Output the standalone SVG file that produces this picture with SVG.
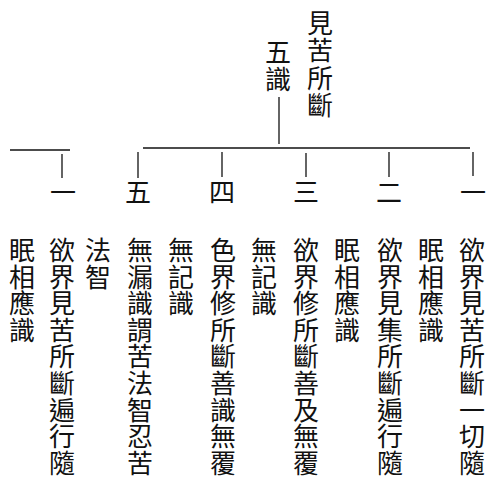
<svg xmlns="http://www.w3.org/2000/svg" width="494" height="488" viewBox="0 0 494 488">
<style>
text{font-family:"Noto Sans CJK TC","Noto Sans CJK JP",sans-serif;fill:#111;text-anchor:middle;font-size:26px}
.ln{stroke:#111;stroke-width:1.3;fill:none}
</style>
<rect width="494" height="488" fill="#fff"/>
<g id="connectors">
<line class="ln" x1="279" y1="97" x2="279" y2="144"/>
<line class="ln" x1="143" y1="148" x2="470" y2="148"/>
<line class="ln" x1="10" y1="150" x2="70" y2="150"/>
<line class="ln" x1="62" y1="154" x2="62" y2="178"/>
<line class="ln" x1="138" y1="152" x2="138" y2="178"/>
<line class="ln" x1="222" y1="152" x2="222" y2="177"/>
<line class="ln" x1="306" y1="153" x2="306" y2="177"/>
<line class="ln" x1="389" y1="152" x2="389" y2="177"/>
<line class="ln" x1="473" y1="152" x2="473" y2="176"/>
</g>
<g id="title">
<text x="320 320 320 320" y="33 60 87.5 114.5">見苦所斷</text>
</g>
<g id="wushi">
<text x="278 278" y="62 89">五識</text>
</g>
<g id="n1l"><text x="63" y="202">一</text></g>
<g id="n5"><text x="138" y="202">五</text></g>
<g id="n4"><text x="222" y="202">四</text></g>
<g id="n3"><text x="306" y="202">三</text></g>
<g id="n2"><text x="389" y="202">二</text></g>
<g id="n1r"><text x="473" y="202">一</text></g>
<g id="col1"><text x="22 22 22 22" y="260 286.6 313.2 339.8">眠相應識</text></g>
<g id="col2"><text x="62 62 62 62 62 62 62 62 62" y="260 286.6 313.2 339.8 366.4 393 419.6 446.2 472.8">欲界見苦所斷遍行隨</text></g>
<g id="col3"><text x="98 98" y="260 286.6">法智</text></g>
<g id="col4"><text x="140 140 140 140 140 140 140 140 140" y="260 286.6 313.2 339.8 366.4 393 419.6 446.2 472.8">無漏識謂苦法智忍苦</text></g>
<g id="col5"><text x="181 181 181" y="260 286.6 313.2">無記識</text></g>
<g id="col6"><text x="223 223 223 223 223 223 223 223 223" y="260 286.6 313.2 339.8 366.4 393 419.6 446.2 472.8">色界修所斷善識無覆</text></g>
<g id="col7"><text x="264 264 264" y="260 286.6 313.2">無記識</text></g>
<g id="col8"><text x="306 306 306 306 306 306 306 306 306" y="260 286.6 313.2 339.8 366.4 393 419.6 446.2 472.8">欲界修所斷善及無覆</text></g>
<g id="col9"><text x="347 347 347 347" y="260 286.6 313.2 339.8">眠相應識</text></g>
<g id="col10"><text x="390 390 390 390 390 390 390 390 390" y="260 286.6 313.2 339.8 366.4 393 419.6 446.2 472.8">欲界見集所斷遍行隨</text></g>
<g id="col11"><text x="431 431 431 431" y="260 286.6 313.2 339.8">眠相應識</text></g>
<g id="col12"><text x="472 472 472 472 472 472 472 472 472" y="260 286.6 313.2 339.8 366.4 393 419.6 446.2 472.8">欲界見苦所斷一切隨</text></g>
</svg>
